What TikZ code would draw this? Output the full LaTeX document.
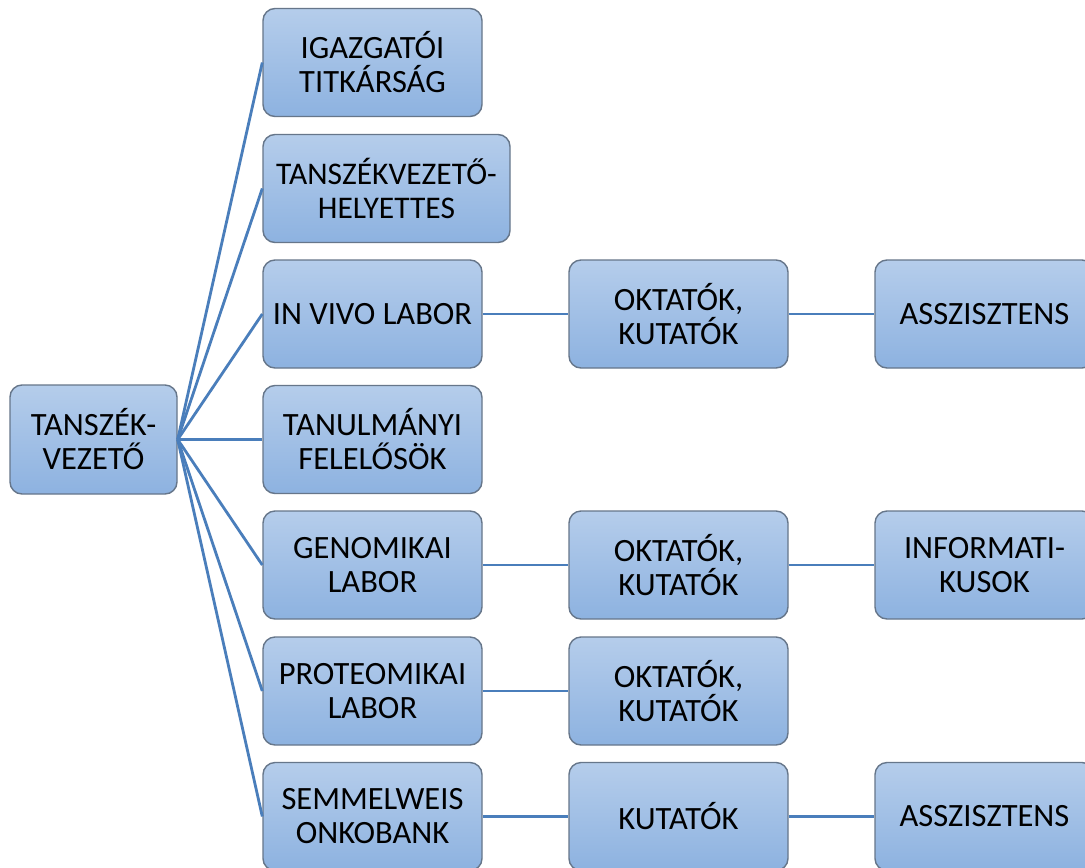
\documentclass[tikz,border=0pt]{standalone}
\usepackage{fontspec}
\setmainfont{Carlito}
\definecolor{boxtop}{HTML}{B5CDEB}
\definecolor{boxbot}{HTML}{8DB2E0}
\definecolor{boxline}{HTML}{66768A}
\definecolor{conn}{HTML}{4A7EBB}
\tikzset{
  orgbox/.style={draw=boxline, line width=1.4pt, rounded corners=12pt,
    top color=boxtop, bottom color=boxbot, minimum width=219pt, minimum height=108pt,
    inner sep=1pt, align=center, font=\fontsize{32.5}{34}\selectfont, text=black},
  rootbox/.style={orgbox, minimum width=167pt, minimum height=109pt},
  link/.style={draw=conn, line width=2.8pt}
}
\begin{document}
\begin{tikzpicture}[x=1pt,y=1pt]
\useasboundingbox (0,0) rectangle (1085,-868);
\clip (0,0) rectangle (1085,-868);
\fill[white] (0,0) rectangle (1085,-868);
% root
\node[rootbox] (root) at (93.5,-439.5) {TANSZÉK-\\VEZETŐ};
% column 2
\node[orgbox] (a1) at (372.5,-62.5) {IGAZGATÓI\\TITKÁRSÁG};
\node[orgbox, minimum width=247pt, text width=240pt, font=\fontsize{31.5}{34}\selectfont] (a2) at (386.5,-188.5) {TANSZÉKVEZETŐ-\\HELYETTES};
\node[orgbox] (a3) at (372.5,-314) {IN VIVO LABOR};
\node[orgbox] (a4) at (372.5,-439.5) {TANULMÁNYI\\FELELŐSÖK};
\node[orgbox] (a5) at (372.5,-565) {GENOMIKAI\\LABOR};
\node[orgbox] (a6) at (372.5,-691) {PROTEOMIKAI\\LABOR};
\node[orgbox] (a7) at (372.5,-816.5) {SEMMELWEIS\\ONKOBANK};
% column 3
\node[orgbox] (b3) at (678.5,-314) {OKTATÓK,\\KUTATÓK};
\node[orgbox] (b5) at (678.5,-565) {OKTATÓK,\\KUTATÓK};
\node[orgbox] (b6) at (678.5,-691) {OKTATÓK,\\KUTATÓK};
\node[orgbox] (b7) at (678.5,-816.5) {KUTATÓK};
% column 4
\node[orgbox] (c3) at (984.5,-314) {ASSZISZTENS};
\node[orgbox] (c5) at (984.5,-565) {INFORMATI-\\KUSOK};
\node[orgbox] (c7) at (984.5,-816.5) {ASSZISZTENS};
% connectors
\foreach \n in {a1,a2,a3,a4,a5,a6,a7}
  \draw[link] (root.east) -- (\n.west);
\draw[link] (a3.east) -- (b3.west);
\draw[link] (b3.east) -- (c3.west);
\draw[link] (a5.east) -- (b5.west);
\draw[link] (b5.east) -- (c5.west);
\draw[link] (a6.east) -- (b6.west);
\draw[link] (a7.east) -- (b7.west);
\draw[link] (b7.east) -- (c7.west);
\end{tikzpicture}
\end{document}
